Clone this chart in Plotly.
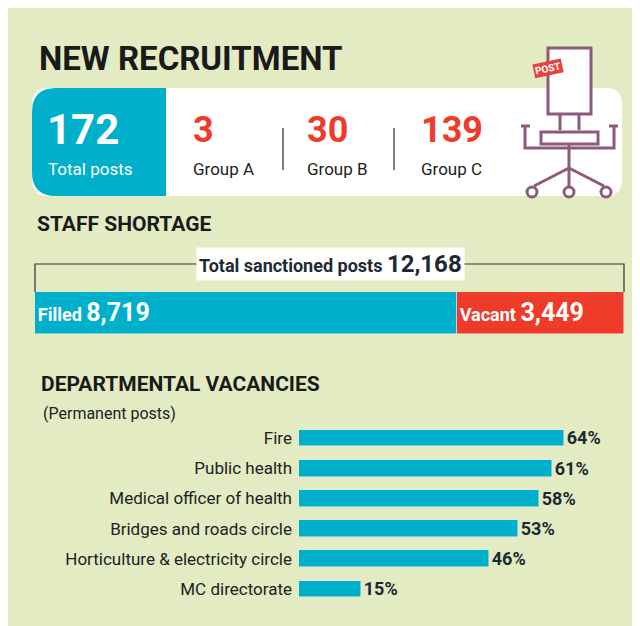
import plotly.graph_objects as go

# data
groups = ["Group A", "Group B", "Group C"]
group_posts = [3, 30, 139]
total_posts = 172
staff_labels = ["Filled", "Vacant"]
staff_values = [8719, 3449]
total_sanctioned = 12168
departments = ["Fire", "Public health", "Medical officer of health",
               "Bridges and roads circle", "Horticulture & electricity circle", "MC directorate"]
vacancy_pct = [64, 61, 58, 53, 46, 15]

BG = "#e3ebc2"
BLUE = "#00b0cb"
RED = "#ee3b2a"
DARK = "#1d2a35"
PURPLE = "#8c5a7c"
FONT = "Liberation Sans Narrow, Roboto, Arial Narrow"
W, H = 640, 626


def py(v):
    return 1 - v / H


fig = go.Figure()

# departmental vacancies bars
fig.add_trace(go.Bar(
    x=vacancy_pct, y=departments, orientation="h", marker_color=BLUE,
    width=0.55, text=[f"<b>{v}%</b>" for v in vacancy_pct], textposition="outside",
    constraintext="none",
    textfont=dict(size=18, color=DARK, family=FONT), cliponaxis=False,
    xaxis="x", yaxis="y", showlegend=False))

# filled / vacant stacked bar
colors = [BLUE, RED]
for lab, val, c in zip(staff_labels, staff_values, colors):
    fig.add_trace(go.Bar(
        x=[val], y=["s"], orientation="h", marker_color=c, width=1,
        text=[f"<b>{lab} <span style='font-size:25px'>{val:,}</span></b>"],
        textposition="inside", insidetextanchor="start", constraintext="none",
        textfont=dict(size=18, color="white", family=FONT),
        xaxis="x2", yaxis="y2", showlegend=False))

shapes = []
annotations = []

# top box
shapes.append(dict(type="path", xref="paper", yref="paper",
                   path=f"M {24/W},{py(96)} Q {24/W},{py(80)} {40/W},{py(80)} L {598/W},{py(80)} "
                        f"Q {614/W},{py(80)} {614/W},{py(96)} L {614/W},{py(172)} Q {614/W},{py(188)} {598/W},{py(188)} "
                        f"L {40/W},{py(188)} Q {24/W},{py(188)} {24/W},{py(172)} Z",
                   fillcolor="white", line_width=0, layer="below"))
shapes.append(dict(type="path", xref="paper", yref="paper",
                   path=f"M {24/W},{py(104)} Q {24/W},{py(80)} {48/W},{py(80)} L {158/W},{py(80)} "
                        f"L {158/W},{py(188)} L {48/W},{py(188)} Q {24/W},{py(188)} {24/W},{py(164)} Z",
                   fillcolor=BLUE, line_width=0, layer="below"))
for sx in [275, 386]:
    shapes.append(dict(type="line", xref="paper", yref="paper", x0=sx / W, x1=sx / W,
                       y0=py(120), y1=py(162), line=dict(color="#555", width=1.5)))

# bracket for total sanctioned
shapes.append(dict(type="path", xref="paper", yref="paper",
                   path=f"M {27/W},{py(284)} L {27/W},{py(256)} L {616/W},{py(256)} L {616/W},{py(284)}",
                   line=dict(color="#333", width=1.2)))

# chair icon
pc = dict(color=PURPLE, width=3)
def pl(path, fill=None):
    shapes.append(dict(type="path", xref="paper", yref="paper", path=path, line=pc,
                       fillcolor=fill))
def P(x, y):
    return f"{x/W},{py(y)}"
pl(f"M {P(540,40)} L {P(583,40)} L {P(583,106)} L {P(540,106)} Z", "white")
pl(f"M {P(552,106)} L {P(552,122)} M {P(571,106)} L {P(571,122)}")
pl(f"M {P(517,117)} L {P(517,140)} L {P(606,140)} L {P(606,117)}")
pl(f"M {P(513,118)} L {P(522,118)} M {P(601,118)} L {P(610,118)}")
pl(f"M {P(533,124)} L {P(590,124)} L {P(590,136)} L {P(533,136)} Z", "white")
pl(f"M {P(561,136)} L {P(561,160)} M {P(561,160)} L {P(526,178)} M {P(561,160)} L {P(596,178)} "
   f"M {P(561,160)} L {P(561,178)}")
for cx in [524, 561, 598]:
    shapes.append(dict(type="circle", xref="paper", yref="paper", x0=(cx-5)/W, x1=(cx+5)/W,
                       y0=py(189), y1=py(179), line=pc, fillcolor="white"))
annotations.append(dict(text="<b>POST</b>", x=556/W, y=py(50), xref="paper", yref="paper",
                        showarrow=False, textangle=-12, bgcolor="#e8423f",
                        font=dict(color="white", size=10, family=FONT)))


def txt(t, x, y, size, color=DARK, anchor="left", bg=None):
    annotations.append(dict(text=t, x=x / W, y=py(y), xref="paper", yref="paper",
                            xanchor=anchor, yanchor="middle", showarrow=False,
                            font=dict(size=size, color=color, family=FONT),
                            bgcolor=bg, borderpad=2))


txt("<b>NEW RECRUITMENT</b>", 28, 50, 33, "#1a1a1a")
txt(f"<b>{total_posts}</b>", 36, 122, 42, "white")
txt("Total posts", 37, 161, 17, "white")
for gx, g, n in zip([182, 296, 410], groups, group_posts):
    txt(f"<b>{n}</b>", gx, 122, 36, RED)
    txt(g, gx, 161, 17, "#222")
txt("<b>STAFF SHORTAGE</b>", 26, 216, 21, "#1a1a1a")
txt(f"<b>Total sanctioned posts <span style='font-size:24px'>{total_sanctioned:,}</span></b>",
    322, 256, 18, DARK, "center", "white")
txt("<b>DEPARTMENTAL VACANCIES</b>", 30, 376, 21, "#1a1a1a")
txt("(Permanent posts)", 32, 405, 16, "#222")

fig.update_layout(
    width=W, height=H, margin=dict(l=0, r=0, t=0, b=0),
    paper_bgcolor=BG, plot_bgcolor="rgba(0,0,0,0)",
    barmode="stack", bargap=0, shapes=shapes, annotations=annotations,
    xaxis=dict(domain=[291 / W, 1], range=[0, 84.3], visible=False),
    yaxis=dict(domain=[py(596), py(415)], autorange="reversed", showgrid=False,
               ticks="", tickfont=dict(size=17, color="#222", family=FONT), ticklabelstandoff=6),
    xaxis2=dict(domain=[27 / W, 616 / W], range=[0, sum(staff_values)], visible=False),
    yaxis2=dict(domain=[py(326), py(284)], visible=False, anchor="x2"),
)

fig.write_html("out.html")
